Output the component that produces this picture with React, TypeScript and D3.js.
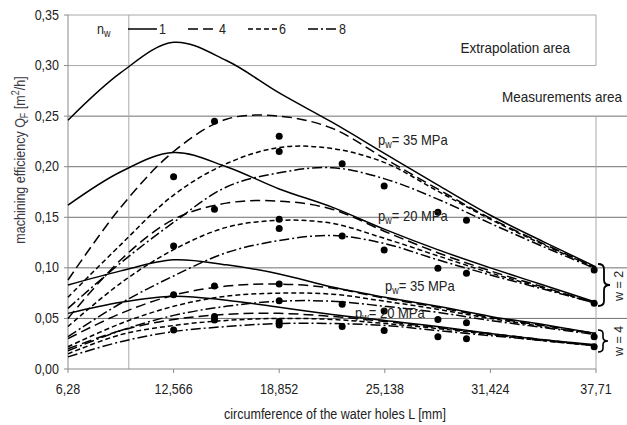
import React from 'react';
import * as d3 from 'd3';

// knots along the circumference axis (mm)
const knots = [6.28, 9.423, 12.566, 15.709, 18.852, 21.995, 25.138, 28.281, 31.424, 34.567, 37.71];

// w = 2, pw = 35 MPa
const a1 = [0.246, 0.293, 0.323, 0.305, 0.273, 0.244, 0.213, 0.182, 0.152, 0.126, 0.101];
const a4 = [0.088, 0.160, 0.215, 0.247, 0.250, 0.238, 0.208, 0.178, 0.149, 0.124, 0.100];
const a6 = [0.071, 0.123, 0.172, 0.203, 0.219, 0.218, 0.204, 0.176, 0.148, 0.123, 0.100];
const a8 = [0.060, 0.105, 0.145, 0.180, 0.194, 0.199, 0.188, 0.168, 0.144, 0.121, 0.099];
// w = 2, pw = 20 MPa
const b1 = [0.162, 0.195, 0.214, 0.200, 0.178, 0.160, 0.138, 0.118, 0.100, 0.083, 0.066];
const b4 = [0.050, 0.108, 0.148, 0.164, 0.166, 0.158, 0.136, 0.115, 0.097, 0.081, 0.065];
const b6 = [0.042, 0.085, 0.118, 0.140, 0.147, 0.144, 0.129, 0.112, 0.095, 0.080, 0.065];
const b8 = [0.032, 0.065, 0.092, 0.115, 0.127, 0.132, 0.124, 0.108, 0.093, 0.079, 0.065];
// w = 4, pw = 35 MPa
const c1 = [0.083, 0.097, 0.108, 0.103, 0.094, 0.081, 0.071, 0.062, 0.052, 0.044, 0.035];
const c4 = [0.030, 0.055, 0.073, 0.082, 0.084, 0.080, 0.070, 0.061, 0.051, 0.043, 0.035];
const c6 = [0.022, 0.045, 0.062, 0.072, 0.075, 0.074, 0.067, 0.059, 0.050, 0.042, 0.035];
const c8 = [0.018, 0.038, 0.053, 0.062, 0.067, 0.067, 0.062, 0.056, 0.048, 0.041, 0.034];
// w = 4, pw = 20 MPa
const d1 = [0.055, 0.066, 0.072, 0.068, 0.061, 0.054, 0.048, 0.042, 0.035, 0.029, 0.024];
const d4 = [0.020, 0.038, 0.049, 0.054, 0.055, 0.052, 0.047, 0.041, 0.035, 0.029, 0.023];
const d6 = [0.015, 0.034, 0.043, 0.048, 0.050, 0.049, 0.045, 0.040, 0.034, 0.028, 0.023];
const d8 = [0.012, 0.027, 0.037, 0.042, 0.045, 0.045, 0.043, 0.038, 0.033, 0.028, 0.023];

const nwLevels = ['1', '4', '6', '8'];
const dashes: Record<string, string> = { '1': '', '4': '10,5', '6': '5,3', '8': '10,3,2,3' };

const curves = [
  { nw: '1', v: a1 }, { nw: '4', v: a4 }, { nw: '6', v: a6 }, { nw: '8', v: a8 },
  { nw: '1', v: b1 }, { nw: '4', v: b4 }, { nw: '6', v: b6 }, { nw: '8', v: b8 },
  { nw: '1', v: c1 }, { nw: '4', v: c4 }, { nw: '6', v: c6 }, { nw: '8', v: c8 },
  { nw: '1', v: d1 }, { nw: '4', v: d4 }, { nw: '6', v: d6 }, { nw: '8', v: d8 },
];

// measured points
const dotL = [12.566, 15.0, 18.852, 22.6, 25.1, 28.3, 30.0, 37.6];
const dotQ = [
  [0.190, 0.1216, 0.0735, 0.0386],
  [0.245, 0.158, 0.082, 0.052, 0.0485],
  [0.230, 0.215, 0.148, 0.139, 0.084, 0.0675, 0.047, 0.0435],
  [0.203, 0.1315, 0.064, 0.042],
  [0.181, 0.1177, 0.0573, 0.038],
  [0.155, 0.0995, 0.049, 0.032],
  [0.147, 0.0946, 0.0458, 0.030],
  [0.098, 0.065, 0.032, 0.022],
];

const xTicks = [6.28, 12.566, 18.852, 25.138, 31.424, 37.71];
const xTickLabels = ['6,28', '12,566', '18,852', '25,138', '31,424', '37,71'];
const yTicks = [0, 0.05, 0.1, 0.15, 0.2, 0.25, 0.3, 0.35];
const extrapLimit = 9.9;

const W = 627, H = 425;
const left = 68, right = 596, top = 15, bottom = 369;
const font = 'Liberation Sans, Arial, sans-serif';

function T(props: any) {
  const { x, y, children, sy = 1.15, anchor = 'start', size = 12.5, rot = 0, fill = '#222' } = props;
  return (
    <text transform={`translate(${x},${y}) rotate(${rot}) scale(1,${sy})`} textAnchor={anchor}
      fontSize={size} fontFamily={font} fill={fill}>{children}</text>
  );
}

function brace(x: number, y1: number, y2: number, w: number) {
  const m = (y1 + y2) / 2, h = w / 2, q = Math.min(5, (y2 - y1) / 6);
  return `M${x},${y1} Q${x + h},${y1} ${x + h},${y1 + q} L${x + h},${m - q} Q${x + h},${m} ${x + w},${m}` +
    ` Q${x + h},${m} ${x + h},${m + q} L${x + h},${y2 - q} Q${x + h},${y2} ${x},${y2}`;
}

export default function App() {
  const x = d3.scaleLinear().domain([6.28, 37.71]).range([left, right]);
  const y = d3.scaleLinear().domain([0, 0.35]).range([bottom, top]);
  const line = d3.line<number>().x((_, i) => x(knots[i])).y(d => y(d)).curve(d3.curveCatmullRom.alpha(0.5));
  const fmtY = (v: number) => d3.format('.2f')(v).replace('.', ',');

  return (
    <svg width={W} height={H} style={{ position: 'absolute', left: 0, top: 0, background: '#fff' }}>
      {/* grid */}
      {yTicks.map(t => {
        const x2 = t >= 0.3 ? right : W;
        const col = t >= 0.3 ? '#a8a8a8' : '#707070';
        return t > 0 ? <line key={t} x1={left} x2={x2} y1={y(t)} y2={y(t)} stroke={col} strokeWidth={1} /> : null;
      })}
      <line x1={x(extrapLimit)} x2={x(extrapLimit)} y1={y(0.35)} y2={bottom} stroke="#a8a8a8" />
      <line x1={right} x2={right} y1={y(0.35)} y2={y(0.3)} stroke="#a8a8a8" />
      <line x1={right} x2={right} y1={y(0.25)} y2={bottom} stroke="#a8a8a8" />
      {/* axes */}
      <line x1={left} x2={left} y1={top} y2={bottom} stroke="#8a8a8a" />
      <line x1={left} x2={right} y1={bottom} y2={bottom} stroke="#8a8a8a" />
      {yTicks.map(t => (
        <g key={'y' + t}>
          <line x1={left - 4} x2={left} y1={y(t)} y2={y(t)} stroke="#8a8a8a" />
          <T x={left - 9} y={y(t) + 4.5} anchor="end">{fmtY(t)}</T>
        </g>
      ))}
      {xTicks.map((t, i) => (
        <g key={'x' + t}>
          <line x1={x(t)} x2={x(t)} y1={bottom} y2={bottom + 4} stroke="#8a8a8a" />
          <T x={x(t)} y={394} anchor="middle">{xTickLabels[i]}</T>
        </g>
      ))}
      {/* curves */}
      {curves.map((c, i) => (
        <path key={i} d={line(c.v) || ''} fill="none" stroke="#000" strokeWidth={1.5}
          strokeDasharray={dashes[c.nw]} />
      ))}
      {/* measured points */}
      {dotL.map((l, i) => dotQ[i].map((q, j) => (
        <circle key={i + '-' + j} cx={x(l)} cy={y(q)} r={3.5} fill="#000" />
      )))}
      {/* legend */}
      <T x={97} y={34}>n<tspan fontSize={9} dy={3}>w</tspan></T>
      {nwLevels.map((n, i) => (
        <g key={'lg' + n}>
          <line x1={128 + i * 60} x2={157 + i * 60} y1={29} y2={29} stroke="#000" strokeWidth={1.5}
            strokeDasharray={dashes[n]} />
          <T x={159 + i * 60} y={34}>{n}</T>
        </g>
      ))}
      {/* areas */}
      <T x={570} y={53} anchor="end" size={13.5}>Extrapolation area</T>
      <T x={622} y={102} anchor="end" size={13.5}>Measurements area</T>
      {/* pressure labels */}
      <T x={378} y={145} size={13}>p<tspan fontSize={9} dy={3}>w</tspan><tspan dy={-3}>= 35 MPa</tspan></T>
      <T x={378} y={221} size={13}>p<tspan fontSize={9} dy={3}>w</tspan><tspan dy={-3}>= 20 MPa</tspan></T>
      <T x={385} y={291} size={13}>p<tspan fontSize={9} dy={3}>w</tspan><tspan dy={-3}>= 35 MPa</tspan></T>
      <T x={355} y={318} size={13}>p<tspan fontSize={9} dy={3}>w</tspan><tspan dy={-3}>= 20 MPa</tspan></T>
      {/* braces */}
      <path d={brace(598, 264, 306, 12)} fill="none" stroke="#000" strokeWidth={1.8} />
      <path d={brace(598, 330, 352, 10)} fill="none" stroke="#000" strokeWidth={1.6} />
      <T x={623} y={286} rot={-90} anchor="middle" size={12.5} sy={1.05}>w = 2</T>
      <T x={623} y={341} rot={-90} anchor="middle" size={12.5} sy={1.05}>w = 4</T>
      {/* axis titles */}
      <T x={335} y={419} anchor="middle" size={12.5}>circumference of the water holes L [mm]</T>
      <T x={25} y={160} rot={-90} anchor="middle" size={12.5} fill="#3a3a44">
        machining efficiency Q<tspan fontSize={9} dy={3}>F</tspan><tspan dy={-3}> [m</tspan>
        <tspan fontSize={9} dy={-5}>2</tspan><tspan dy={5}>/h]</tspan>
      </T>
    </svg>
  );
}
